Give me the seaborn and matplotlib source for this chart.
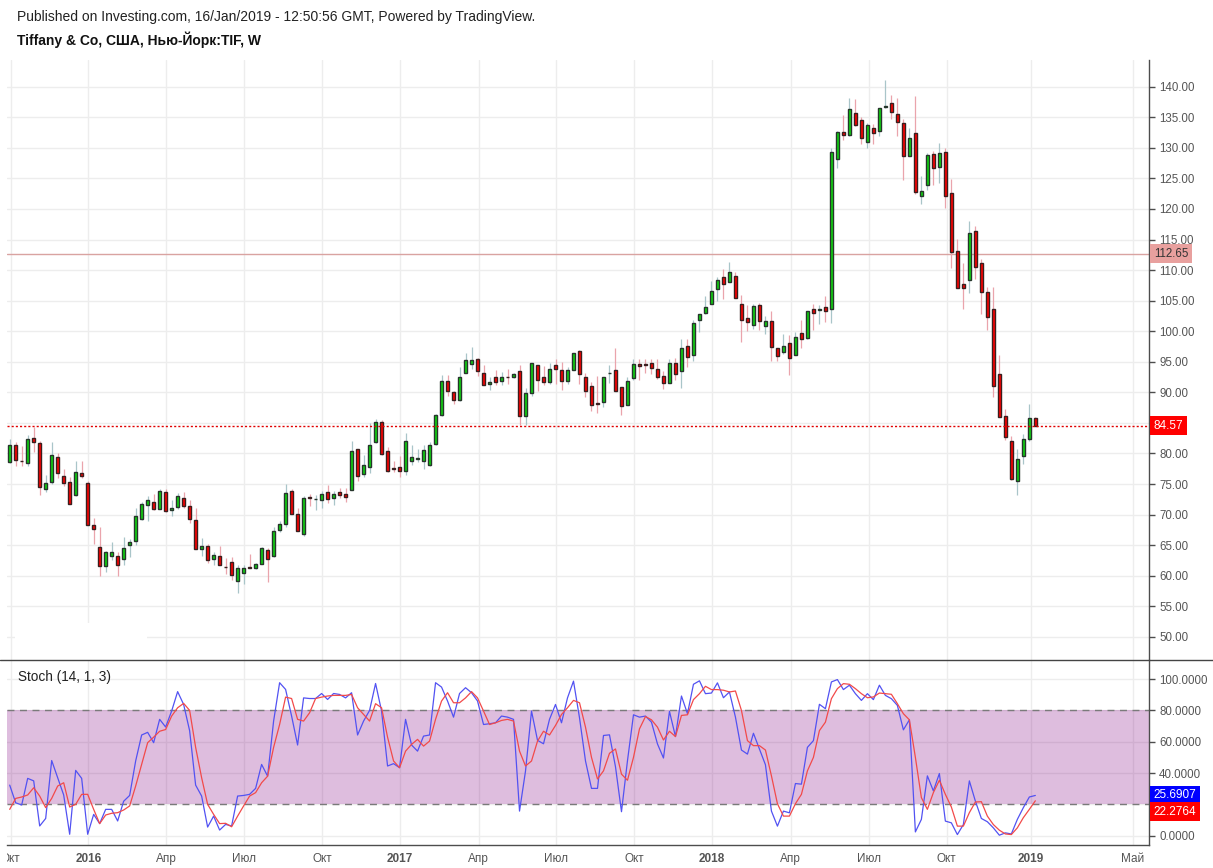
import numpy as np
import pandas as pd
import matplotlib
matplotlib.use("Agg")
import matplotlib.pyplot as plt
import seaborn as sns
from matplotlib.lines import Line2D
from matplotlib.patches import Rectangle
from matplotlib.transforms import Bbox, TransformedBbox, blended_transform_factory

# weekly OHLC, TIF, bars from late Sep 2015 to Jan 2019
opens = [78.62, 81.46, 78.84, 78.46, 82.60, 81.78, 74.20, 75.35, 79.49, 76.38,
         75.40, 73.28, 76.88, 75.24, 68.37, 64.77, 61.66, 63.19, 63.19, 62.81,
         65.10, 65.75, 69.35, 71.64, 72.00, 71.00, 73.66, 70.82, 71.30, 72.68,
         71.48, 69.19, 64.44, 64.93, 62.79, 63.28, 61.50, 62.30, 59.18, 60.49,
         61.40, 61.26, 61.97, 64.26, 63.28, 67.49, 68.52, 73.93, 70.16, 66.89,
         72.85, 72.50, 72.46, 73.77, 72.79, 73.77, 73.44, 74.10, 80.66, 76.72,
         77.87, 81.80, 85.08, 80.33, 77.60, 77.87, 77.21, 78.85, 79.05, 78.70,
         78.20, 81.60, 86.30, 91.79, 90.00, 88.75, 93.15, 94.62, 95.54, 93.20,
         91.36, 92.55, 91.90, 92.55, 92.55, 93.42, 86.14, 89.95, 94.50, 92.45,
         91.68, 94.40, 93.60, 91.85, 93.64, 96.70, 92.45, 90.98, 88.20, 88.42,
         93.10, 93.58, 90.80, 87.93, 92.34, 94.67, 94.62, 94.84, 93.86, 92.60,
         91.58, 94.84, 93.48, 97.60, 96.14, 101.80, 102.99, 104.46, 106.90, 108.86,
         108.04, 109.00, 104.46, 102.17, 101.03, 104.30, 100.87, 101.68, 97.28, 96.63,
         98.10, 96.14, 99.73, 98.90, 103.64, 103.55, 103.97, 103.67, 128.10, 132.53,
         132.03, 135.64, 134.50, 130.90, 133.18, 132.69, 136.75, 137.27, 135.47, 134.00,
         128.60, 132.36, 122.05, 123.85, 128.93, 126.80, 129.25, 122.54, 113.20, 107.65,
         108.30, 116.43, 111.10, 106.34, 103.56, 92.97, 86.10, 82.00, 75.52, 79.61,
         82.39, 85.88]
highs = [82.44, 81.84, 81.18, 82.98, 84.35, 82.00, 76.44, 81.84, 80.15, 77.53,
         76.10, 78.73, 78.73, 75.46, 69.40, 67.93, 64.00, 65.48, 63.84, 66.30,
         66.08, 71.15, 72.00, 73.00, 73.30, 74.15, 74.15, 72.35, 73.50, 73.66,
         72.35, 71.04, 66.14, 65.15, 63.88, 64.86, 62.84, 63.06, 61.70, 61.70,
         63.50, 62.08, 64.70, 64.53, 67.98, 68.96, 74.97, 74.15, 71.04, 73.00,
         73.44, 73.22, 73.88, 74.92, 73.93, 74.43, 74.30, 82.00, 80.77, 79.73,
         84.92, 85.63, 85.46, 81.04, 78.85, 79.67, 83.28, 81.37, 80.80, 81.40,
         81.90, 86.50, 92.77, 92.77, 90.16, 94.08, 96.52, 97.34, 95.70, 94.40,
         92.45, 93.60, 93.30, 93.75, 93.15, 94.40, 90.65, 94.75, 94.50, 94.30,
         94.73, 95.38, 94.90, 94.20, 96.40, 97.00, 93.20, 91.68, 92.66, 92.45,
         94.40, 97.23, 90.80, 92.55, 95.38, 95.40, 95.43, 95.43, 95.40, 93.53,
         95.40, 95.60, 98.70, 98.70, 101.85, 102.83, 105.70, 108.26, 108.90, 110.20,
         111.30, 109.73, 106.00, 104.30, 104.46, 104.56, 102.45, 103.37, 97.30, 99.62,
         99.45, 99.90, 101.90, 103.30, 104.40, 104.35, 105.70, 129.90, 132.74, 135.30,
         138.15, 137.98, 135.00, 134.00, 133.90, 136.56, 141.10, 138.64, 138.10, 134.70,
         133.24, 138.50, 125.40, 129.20, 129.50, 130.78, 129.90, 124.90, 115.07, 111.14,
         118.00, 117.25, 111.80, 107.20, 107.27, 96.08, 87.25, 82.88, 80.80, 83.15,
         88.17, 85.90]
lows = [78.46, 77.97, 77.97, 77.97, 80.26, 73.22, 73.66, 75.08, 76.00, 74.70,
        71.70, 73.00, 76.00, 68.30, 65.20, 59.97, 60.60, 62.54, 59.97, 61.83,
        63.08, 65.10, 69.10, 69.00, 70.80, 70.90, 70.44, 69.79, 70.88, 71.10,
        68.70, 64.40, 63.30, 62.10, 61.75, 61.70, 60.33, 59.23, 57.16, 58.69,
        61.25, 61.15, 61.90, 58.96, 63.06, 67.16, 67.98, 70.10, 67.30, 66.56,
        71.42, 70.77, 71.10, 71.91, 71.58, 72.73, 72.08, 74.00, 75.52, 76.17,
        76.83, 81.64, 79.80, 77.05, 77.00, 76.17, 76.45, 78.14, 78.60, 77.40,
        77.90, 81.35, 86.10, 89.40, 88.04, 88.53, 93.10, 93.75, 92.66, 91.20,
        90.38, 91.20, 91.14, 91.30, 92.40, 84.60, 84.60, 89.40, 90.27, 91.14,
        91.30, 91.36, 90.33, 91.40, 93.60, 91.36, 89.24, 86.90, 86.58, 87.55,
        91.57, 90.20, 86.36, 87.90, 92.00, 92.07, 93.20, 92.93, 92.20, 90.60,
        91.50, 91.96, 90.76, 94.13, 95.10, 99.84, 102.88, 104.46, 104.90, 105.20,
        108.00, 105.38, 98.20, 100.00, 100.30, 100.20, 99.57, 95.05, 95.20, 96.20,
        92.88, 96.10, 97.20, 98.75, 100.27, 101.20, 101.47, 101.40, 126.74, 131.27,
        132.00, 133.60, 130.56, 130.00, 130.70, 131.87, 136.45, 134.80, 132.00, 124.67,
        128.60, 122.50, 120.85, 123.14, 123.90, 124.30, 120.20, 110.40, 107.00, 103.60,
        106.30, 108.60, 102.80, 100.20, 89.26, 85.90, 82.17, 75.63, 73.17, 78.24,
        82.06, 84.50]
closes = [81.46, 79.00, 78.70, 82.44, 81.90, 74.53, 75.24, 79.82, 76.88, 75.24,
          71.80, 77.04, 76.33, 68.37, 67.72, 61.66, 63.95, 63.95, 61.83, 64.60,
          65.59, 69.84, 71.80, 72.35, 71.00, 73.82, 70.60, 71.15, 73.11, 71.48,
          69.35, 64.44, 64.82, 62.65, 63.33, 61.80, 61.40, 60.16, 61.31, 61.31,
          61.35, 61.97, 64.59, 62.79, 67.38, 68.52, 73.60, 70.16, 67.38, 72.79,
          72.75, 72.60, 73.44, 72.62, 73.44, 73.28, 72.90, 80.33, 76.39, 78.20,
          81.31, 85.08, 79.84, 77.21, 77.50, 77.21, 81.97, 79.50, 79.20, 80.50,
          81.47, 86.25, 91.79, 90.16, 88.75, 92.45, 95.33, 95.33, 93.53, 91.25,
          91.74, 91.68, 92.55, 92.50, 92.93, 86.14, 89.95, 94.73, 92.00, 91.68,
          93.86, 93.80, 91.85, 93.70, 96.36, 93.00, 90.20, 88.00, 88.10, 92.45,
          93.20, 90.20, 87.77, 91.80, 94.67, 94.30, 94.55, 94.00, 92.50, 91.58,
          94.84, 93.00, 97.28, 95.76, 101.36, 102.83, 103.97, 106.58, 108.37, 107.72,
          109.67, 105.38, 101.80, 101.47, 104.13, 101.68, 101.68, 97.40, 95.92, 97.60,
          95.65, 99.08, 98.75, 103.30, 103.00, 103.60, 103.26, 129.25, 132.53, 132.14,
          136.30, 133.67, 131.65, 133.67, 132.36, 136.45, 136.80, 135.80, 134.27, 128.60,
          131.54, 122.70, 122.87, 128.76, 126.63, 129.10, 122.05, 112.89, 107.00, 107.00,
          116.00, 110.43, 106.50, 102.40, 91.06, 85.99, 82.72, 75.90, 79.17, 82.44,
          85.88, 84.57]

stoch_k = [32.3, 21.0, 19.6, 36.6, 35.0, 6.2, 11.0, 48.0, 37.0, 26.0,
           0.9, 41.7, 36.6, 0.9, 13.6, 7.7, 16.8, 16.8, 9.4, 22.0,
           25.7, 47.7, 64.3, 66.0, 59.4, 74.3, 69.4, 79.6, 92.0, 83.8,
           67.0, 32.3, 25.3, 5.5, 12.5, 3.6, 7.2, 6.2, 25.3, 25.7,
           26.4, 30.2, 45.5, 38.0, 73.2, 97.7, 93.4, 76.4, 57.9, 88.0,
           87.6, 87.6, 90.8, 87.0, 90.8, 90.2, 88.0, 91.3, 64.3, 73.2,
           80.0, 97.2, 79.6, 44.5, 46.0, 43.4, 74.3, 57.9, 54.0, 63.6,
           64.3, 97.7, 94.9, 86.0, 75.7, 90.8, 94.5, 91.3, 86.0, 71.0,
           71.5, 72.1, 76.4, 75.7, 74.3, 15.7, 41.3, 79.6, 60.9, 58.7,
           74.3, 83.8, 72.1, 88.0, 98.7, 75.3, 47.7, 30.2, 30.2, 64.0,
           64.4, 44.0, 15.3, 47.9, 77.2, 75.7, 76.4, 72.5, 58.6, 49.6,
           79.4, 63.3, 89.2, 77.9, 96.7, 98.9, 90.7, 91.1, 97.6, 88.1,
           91.8, 75.7, 54.7, 52.1, 65.4, 55.4, 45.3, 15.7, 6.1, 15.7,
           14.6, 33.3, 32.9, 56.4, 60.7, 83.9, 81.1, 98.2, 99.7, 93.3,
           96.1, 90.7, 86.4, 90.7, 86.9, 96.1, 89.6, 87.5, 83.2, 67.6,
           74.0, 2.4, 10.4, 38.2, 28.6, 39.7, 9.3, 8.2, 0.7, 7.1,
           35.0, 22.1, 11.0, 8.9, 5.0, 0.3, 1.8, 1.1, 10.4, 17.9,
           24.7, 25.6907]
stoch_d = [16.8, 23.8, 24.7, 26.0, 30.6, 25.3, 17.9, 23.8, 31.7, 33.8,
           18.3, 20.0, 26.4, 26.4, 16.8, 7.7, 13.2, 14.3, 14.7, 16.4,
           19.0, 31.7, 45.5, 59.4, 62.9, 66.7, 67.8, 76.4, 81.7, 84.5,
           80.0, 56.4, 37.0, 20.0, 13.6, 7.7, 7.9, 5.7, 12.5, 19.0,
           25.3, 27.5, 33.8, 38.0, 56.4, 71.0, 88.5, 87.6, 74.3, 73.2,
           78.5, 87.6, 88.5, 89.2, 89.6, 89.6, 89.6, 90.2, 81.7, 77.4,
           73.2, 84.3, 81.7, 62.9, 47.7, 43.4, 54.0, 58.3, 61.5, 57.2,
           60.4, 74.3, 86.0, 91.3, 84.9, 84.9, 88.0, 92.0, 88.0, 79.6,
           71.0, 72.1, 73.6, 74.3, 73.2, 54.0, 44.5, 47.7, 60.4, 66.7,
           64.3, 70.4, 77.4, 81.7, 86.4, 84.9, 69.3, 50.0, 36.2, 41.4,
           52.6, 55.4, 39.3, 35.4, 50.0, 68.2, 76.1, 74.0, 69.3, 61.1,
           66.7, 63.3, 76.8, 77.2, 86.9, 90.7, 95.4, 93.3, 93.3, 92.9,
           91.8, 92.4, 80.0, 60.7, 57.5, 57.5, 54.7, 38.2, 20.4, 12.5,
           12.5, 20.4, 26.4, 41.4, 50.0, 67.1, 72.5, 87.5, 93.9, 97.1,
           96.7, 93.9, 90.7, 88.1, 88.6, 91.1, 90.7, 90.3, 84.3, 77.9,
           74.0, 50.0, 24.3, 16.8, 27.5, 35.4, 26.4, 18.3, 6.1, 6.1,
           14.7, 21.5, 21.7, 12.5, 7.1, 3.5, 1.1, 0.7, 5.0, 11.5,
           16.8, 22.2764]

tick_pos = [0.17, 13.1, 26.1, 39.1, 52.1, 65.1, 78.2, 91.1, 104.1, 117.1, 130.2, 143.2, 156.2, 170.2, 187.2]
tick_labels = ['Окт', '2016', 'Апр', 'Июл', 'Окт', '2017', 'Апр', 'Июл', 'Окт', '2018', 'Апр', 'Июл', 'Окт', '2019', 'Май']
price_ticks = list(range(50, 145, 5))
stoch_ticks = [0, 20, 40, 60, 80, 100]

last_price = 84.57
hline_price = 112.65

df = pd.DataFrame({'open': opens, 'high': highs, 'low': lows, 'close': closes})
df['bar'] = np.arange(len(df))
st = pd.DataFrame({'bar': np.arange(len(stoch_k)), 'k': stoch_k, 'd': stoch_d})

#%%
sns.set_theme(style="white")
plt.rcParams['font.family'] = ['Liberation Sans', 'DejaVu Sans']

W, H = 1213, 868
fig = plt.figure(figsize=(W / 100, H / 100), dpi=100)

def fx(px):
    return px / W

def fy(py):
    return 1 - py / H

left_px, right_px = 7, 1149.3
ax = fig.add_axes([fx(left_px), fy(660), fx(right_px) - fx(left_px), fy(60) - fy(660)])
ax2 = fig.add_axes([fx(left_px), fy(844.6), fx(right_px) - fx(left_px), fy(660) - fy(844.6)], sharex=ax)

grid_c = '#ededed'
axis_c = '#4d4d4d'
label_c = '#555555'

# ---- price pane
up = df['close'] >= df['open']
dn = ~up
ax.vlines(df.loc[up, 'bar'], df.loc[up, 'low'], df.loc[up, 'high'], color='#a9c5c9', lw=0.9, zorder=2)
ax.vlines(df.loc[dn, 'bar'], df.loc[dn, 'low'], df.loc[dn, 'high'], color='#eaa4ac', lw=0.9, zorder=2)
body_lo = np.minimum(df['open'], df['close'])
body_h = (df['close'] - df['open']).abs()
ax.bar(df.loc[up, 'bar'], body_h[up], bottom=body_lo[up], width=0.6,
       color='#10d510', edgecolor='#26352b', linewidth=1.0, zorder=3)
ax.bar(df.loc[dn, 'bar'], body_h[dn], bottom=body_lo[dn], width=0.6,
       color='#ff0000', edgecolor='#3a1f1f', linewidth=1.0, zorder=3)

ax.axhline(hline_price, color='#d9a3a1', lw=1, zorder=1.5)
ax.axhline(last_price, color='#e00000', lw=1, ls=(0, (1.5, 1.5)), zorder=4)

# tick labels hidden behind the price boxes are left blank
ax.set_ylim(46.22, 144.37)
ax.set_yticks(price_ticks)
ax.set_yticklabels(['' if v == 85 else f'{v:.2f}' for v in price_ticks])
ax.yaxis.tick_right()
ax.tick_params(axis='y', colors=axis_c, labelcolor=label_c, labelsize=8.3, length=4, width=1, pad=3)
ax.tick_params(axis='x', length=0, labelbottom=False)
ax.grid(True, color=grid_c, lw=1)
ax.set_axisbelow(True)
for s in ['top', 'left', 'bottom']:
    ax.spines[s].set_visible(False)
ax.spines['right'].set_color(axis_c)
ax.spines['right'].set_linewidth(1)

tr = blended_transform_factory(ax.transAxes, ax.transData)
ax.text(1.004, hline_price, '112.65', transform=tr, ha='left', va='center', fontsize=8.3, color='#333333',
        bbox=dict(boxstyle='square,pad=0.3', fc='#e8a09e', ec='none'), zorder=6, clip_on=False)
ax.text(1.004, last_price, '84.57', transform=tr, ha='left', va='center', fontsize=8.5, color='white',
        bbox=dict(boxstyle='square,pad=0.3', fc='#ff0000', ec='none'), zorder=6, clip_on=False)

# blank patch near the lower left corner of the price pane
ax.add_patch(Rectangle((fx(15) - fx(left_px), 0.0), (147 - 15) / (right_px - left_px), (660 - 623) / 600,
                       transform=ax.transAxes, fc='white', ec='none', zorder=1))

# ---- stochastic pane
ax2.axhspan(20, 80, color=(0.5, 0.0, 0.5, 0.26), lw=0, zorder=1)
for lvl in (80, 20):
    ax2.axhline(lvl, color='#7a7a7a', lw=1, ls=(0, (5, 4)), zorder=1.5)
sns.lineplot(data=st, x='bar', y='k', ax=ax2, color='#5252f2', lw=0.9, zorder=3)
sns.lineplot(data=st, x='bar', y='d', ax=ax2, color='#f24a4a', lw=0.9, zorder=3)
ax2.set_xlabel('')
ax2.set_ylabel('')
ax2.set_ylim(-5.7, 112.2)
ax2.set_yticks(stoch_ticks)
ax2.set_yticklabels(['' if v == 20 else f'{v:.4f}' for v in stoch_ticks])
ax2.yaxis.tick_right()
ax2.tick_params(axis='y', colors=axis_c, labelcolor=label_c, labelsize=8.3, length=4, width=1, pad=3)
ax2.grid(True, color=grid_c, lw=1)
ax2.set_axisbelow(True)
for s in ['top', 'left']:
    ax2.spines[s].set_visible(False)
for s in ['right', 'bottom']:
    ax2.spines[s].set_color(axis_c)
    ax2.spines[s].set_linewidth(1)

ax2.set_xlim(-0.45, 190.0)
ax2.set_xticks(tick_pos)
ax2.set_xticklabels(tick_labels)
ax2.tick_params(axis='x', colors=axis_c, labelcolor=label_c, labelsize=8.5, length=3, width=1, pad=3)
for lab in ax2.get_xticklabels():
    if lab.get_text().isdigit():
        lab.set_fontweight('bold')
first = ax2.get_xticklabels()[0]
first.set_clip_box(TransformedBbox(Bbox([[fx(left_px), 0], [1, 1]]), fig.transFigure))
first.set_clip_on(True)

tr2 = blended_transform_factory(ax2.transAxes, ax2.transData)
ax2.text(1.004, stoch_k[-1], f'{stoch_k[-1]:.4f}', transform=tr2, ha='left', va='center', fontsize=8.5,
         color='white', bbox=dict(boxstyle='square,pad=0.3', fc='#0000ff', ec='none'), zorder=6, clip_on=False)
ax2.text(1.004, 15.2, f'{stoch_d[-1]:.4f}', transform=tr2, ha='left', va='center', fontsize=8.5,
         color='white', bbox=dict(boxstyle='square,pad=0.3', fc='#ff0000', ec='none'), zorder=6, clip_on=False)

fig.text(fx(18), fy(677), 'Stoch (14, 1, 3)', fontsize=9.8, color='#222222', va='center', ha='left')

# pane separator
fig.add_artist(Line2D([0, 1], [fy(660), fy(660)], color='#444444', lw=1))

# header
fig.text(fx(17), fy(17), 'Published on Investing.com, 16/Jan/2019 - 12:50:56 GMT, Powered by TradingView.',
         fontsize=10, color='#222222', va='center', ha='left')
fig.text(fx(17), fy(40), 'Tiffany & Co, США, Нью-Йорк:TIF, W',
         fontsize=10, fontweight='bold', color='#111111', va='center', ha='left')

fig.savefig('out.png', dpi=100, facecolor='white')
